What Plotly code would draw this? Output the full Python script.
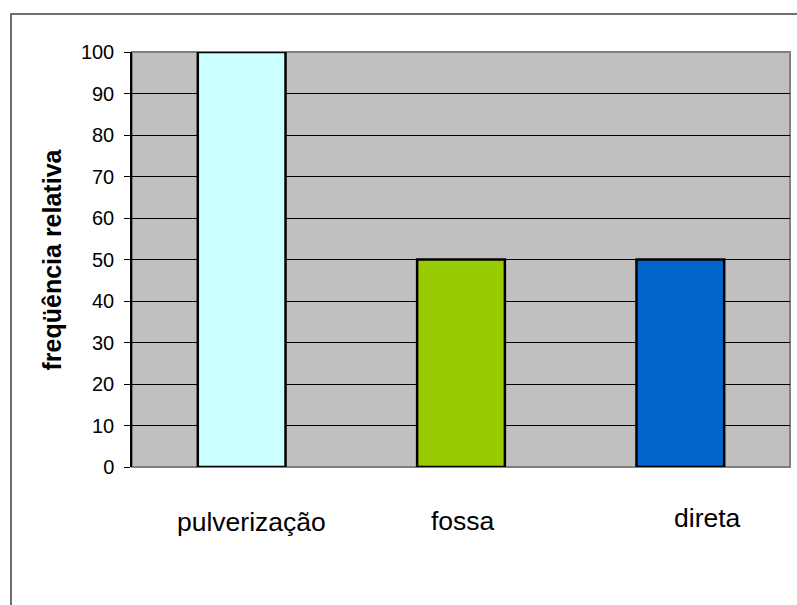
import plotly.graph_objects as go

categories = ["pulverização", "fossa", "direta"]
values = [100, 50, 50]
bar_colors = ["#CCFFFF", "#99CC00", "#0066CC"]
label_shift = [10, 2, 27]
label_y = [-0.132, -0.13, -0.122]
y_title = "freqüência relativa"

FONT = "Liberation Sans, Arial, sans-serif"

fig = go.Figure()
fig.add_trace(go.Bar(
    x=categories, y=values, width=0.4,
    marker=dict(color=bar_colors, line=dict(color="black", width=2.5)),
    hoverinfo="skip",
))

for cat, dx, yy in zip(categories, label_shift, label_y):
    fig.add_annotation(x=cat, xref="x", y=yy, yref="paper", text=cat,
                       showarrow=False, xshift=dx, xanchor="center", yanchor="middle",
                       font=dict(family=FONT, size=26.5, color="black"))

fig.add_annotation(x=-0.1216, xref="paper", y=0.5, yref="paper", text="<b>" + y_title + "</b>",
                   textangle=-90, showarrow=False, xanchor="center", yanchor="middle",
                   font=dict(family=FONT, size=25, color="black"))

# plot area border (gray) and outer chart frame
fig.add_shape(type="rect", xref="paper", yref="paper", x0=0, x1=1, y0=0, y1=1,
              line=dict(color="#808080", width=2), layer="below")
fig.add_shape(type="rect", xref="paper", yref="paper", x0=-0.1839, x1=1.05, y0=-0.4, y1=1.0916,
              line=dict(color="#404040", width=1.5))

fig.update_layout(
    width=797, height=605,
    margin=dict(l=132, r=7, t=52, b=138),
    paper_bgcolor="white", plot_bgcolor="#C0C0C0",
    showlegend=False,
    font=dict(family=FONT, color="black"),
    bargap=0.6,
)
fig.update_xaxes(showticklabels=False, ticks="", showgrid=False, zeroline=False,
                 showline=False, range=[-0.5, 2.5])
fig.update_yaxes(range=[0, 100], dtick=10, showgrid=True, gridcolor="black", gridwidth=1,
                 zeroline=False, showline=True, linecolor="black", linewidth=1.5,
                 ticks="outside", ticklen=6, tickcolor="black", tickwidth=1,
                 ticklabelstandoff=6,
                 tickfont=dict(family=FONT, size=20, color="black"))

fig.write_html("out.html")
